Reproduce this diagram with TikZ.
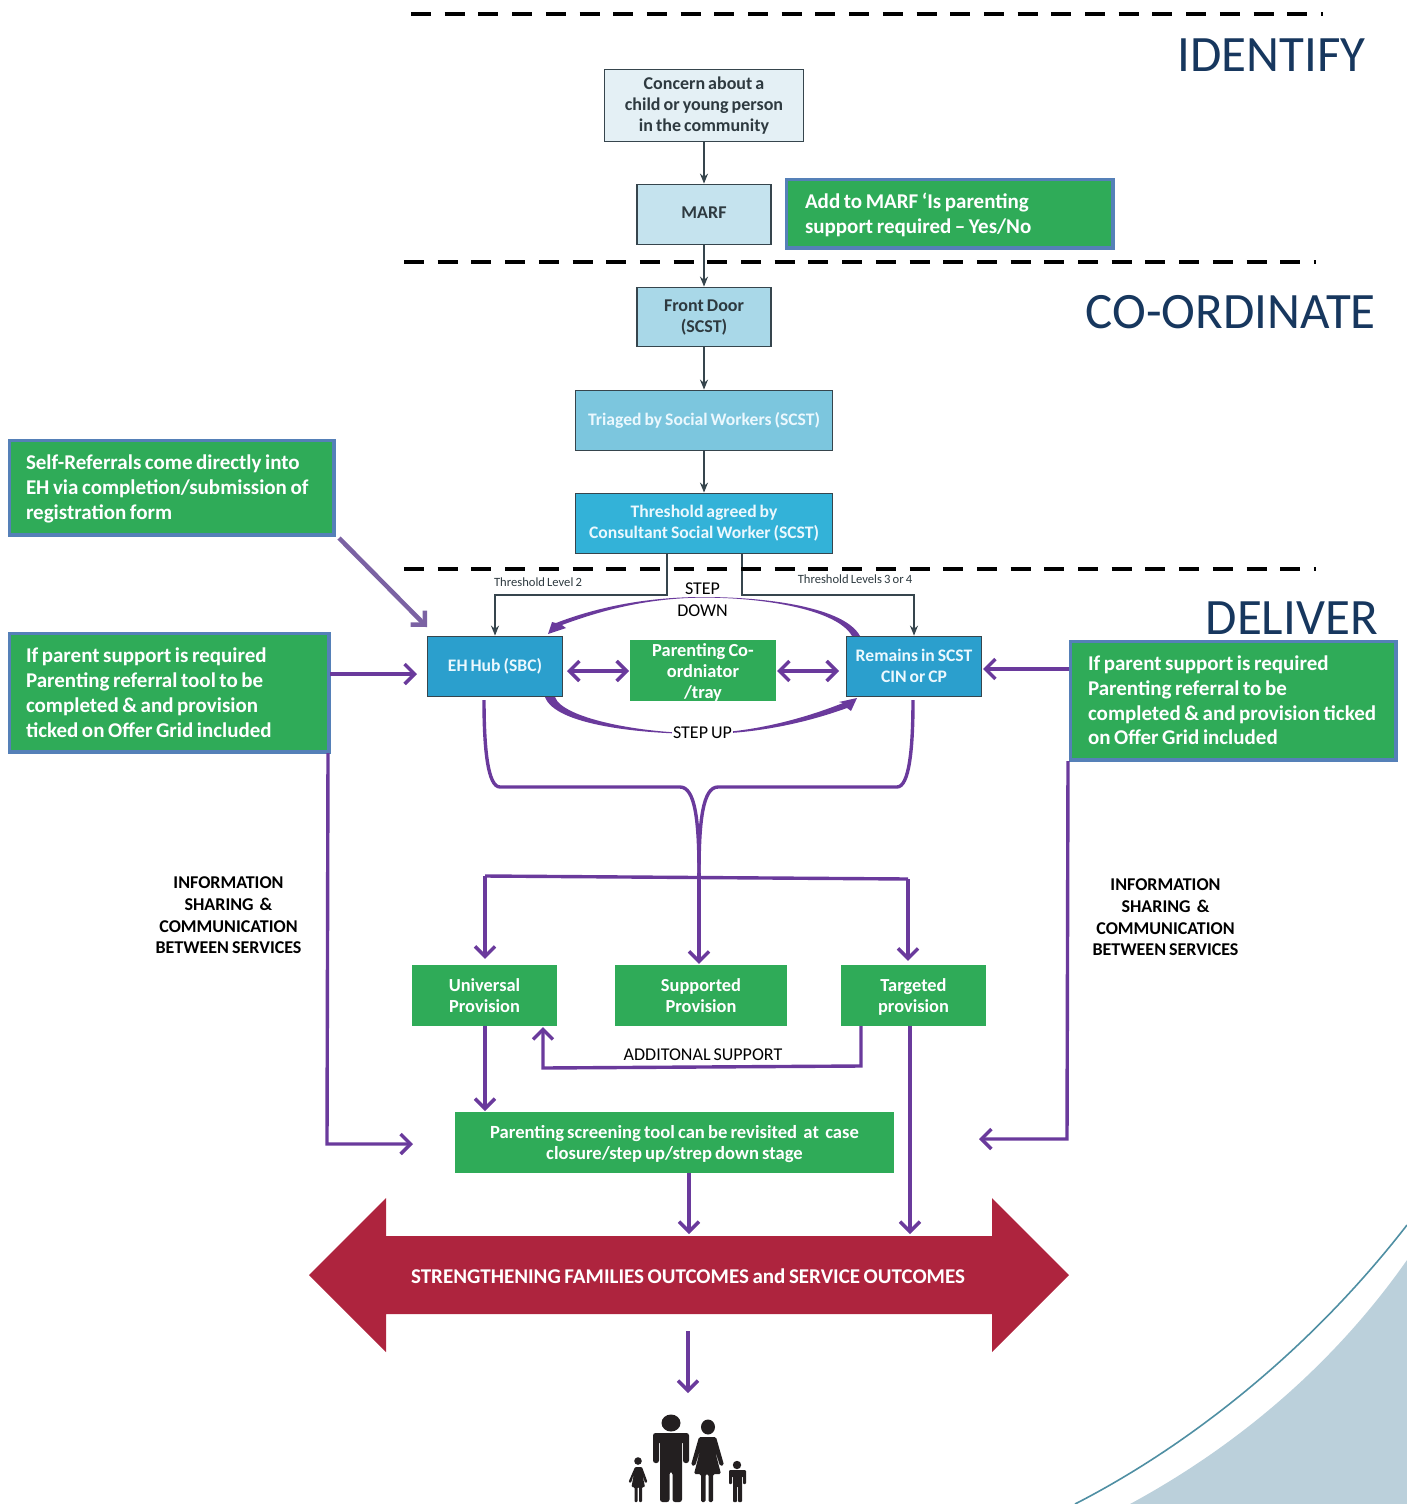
\documentclass[tikz,border=0pt]{standalone}
\usepackage{fontspec}
\setmainfont{Carlito}[WordSpace=0.75]
\usetikzlibrary{arrows.meta,calc}
\definecolor{grn}{HTML}{2FAB58}
\definecolor{bordblue}{HTML}{5580B8}
\definecolor{purp}{HTML}{6A3A9C}
\definecolor{lpurp}{HTML}{7B62A3}
\definecolor{crim}{HTML}{AE243E}
\definecolor{navy}{HTML}{17375E}
\definecolor{edge}{HTML}{36454D}
\definecolor{ink}{HTML}{2E3A40}
\definecolor{swoosh}{HTML}{BBD0DB}
\definecolor{swline}{HTML}{4F8FA3}
\definecolor{fam}{HTML}{231F20}
\newcommand{\fs}[2]{\fontsize{#1}{#2}\selectfont}
\newcommand{\tp}[1]{\rule{0pt}{#1pt}}
\tikzset{
  flowbox/.style={draw=edge,line width=1.6pt,inner sep=0pt,align=center,text=ink,font=\fs{18}{20.6}\bfseries},
  bluebox/.style={flowbox,text=white!92!cyan,font=\fs{17.6}{21}\bfseries},
  notebox/.style={draw=bordblue,line width=3.5pt,fill=grn,text=white,align=flush left,inner ysep=0pt,font=\fs{21}{24.8}\bfseries},
  provbox/.style={fill=grn,text=white,align=center,inner sep=0pt,font=\fs{18.4}{21}\bfseries},
  flowarrow/.style={draw=edge,line width=1.5pt,-{Stealth[length=10pt,width=8pt]}},
  parrow/.style={draw=purp,line width=3.4pt,-{Straight Barb[length=10pt,width=20pt]}},
  pline/.style={draw=purp,line width=3.4pt},
  pdouble/.style={draw=purp,line width=3.4pt,{Straight Barb[length=10pt,width=20pt]}-{Straight Barb[length=10pt,width=20pt]}},
  stagedash/.style={draw=black,line width=4pt,dash pattern=on 20pt off 13.7pt},
  stagetitle/.style={text=navy,anchor=east,inner sep=0pt,font=\fs{51}{51}},
  infotext/.style={align=center,inner sep=0pt,text=black,font=\fs{18}{21.7}\bfseries},
  plain/.style={inner sep=0pt,text=black,align=center,font=\fs{18}{22}},
  smalllabel/.style={inner sep=0pt,text=ink,font=\fs{12.6}{15}},
}
\begin{document}
\begin{tikzpicture}[x=1pt,y=-1pt]
\useasboundingbox (0,0) rectangle (1407,1504);
% corner swoosh
\fill[swoosh] (1130,1504) .. controls (1230,1450) and (1330,1370) .. (1407,1260) -- (1407,1504) -- cycle;
\draw[swline,line width=1.6pt] (1075,1504) .. controls (1190,1445) and (1310,1350) .. (1407,1225);

% titles
\node[stagetitle] (tid) at (1366,55) {IDENTIFY};
\node[stagetitle] (tco) at (1376,312) {CO-ORDINATE};
\node[stagetitle] (tde) at (1378,618) {DELIVER};

% flow boxes
\node[flowbox,fill={rgb,255:red,228;green,240;blue,245},minimum width=199.2pt,minimum height=72.2pt] (concern) at (704,105.5) {Concern about a\\child or young person\\in the community};
\node[flowbox,fill={rgb,255:red,197;green,227;blue,238},minimum width=134.2pt,minimum height=60.2pt] (marf) at (704,214.5) {\raisebox{3pt}{MARF}};
\node[flowbox,fill={rgb,255:red,169;green,216;blue,232},minimum width=134.2pt,minimum height=59.2pt] (front) at (704,317) {\tp{13}Front Door\\(SCST)};
\node[bluebox,fill={rgb,255:red,124;green,198;blue,222},minimum width=257.2pt,minimum height=60.2pt] (triaged) at (704,420.5) {Triaged by Social Workers (SCST)};
\node[bluebox,fill={rgb,255:red,51;green,178;blue,216},minimum width=257.2pt,minimum height=60.2pt] (thresh) at (704,523.5) {Threshold agreed by\\Consultant Social Worker (SCST)};
\node[bluebox,fill={rgb,255:red,43;green,159;blue,205},minimum width=135.2pt,minimum height=60.2pt] (eh) at (495,666.5) {EH Hub (SBC)};
\node[bluebox,fill={rgb,255:red,43;green,159;blue,205},minimum width=135.2pt,minimum height=60.2pt] (remains) at (914,666.5) {\raisebox{1pt}{Remains in SCST}\\\raisebox{1pt}{CIN or CP}};

% note boxes
\node[notebox,inner xsep=18.75pt,text width=289pt,minimum height=68.5pt] (add) at (949.5,213.5) {\tp{19}Add to MARF ‘Is parenting\\support required -- Yes/No};
\node[notebox,inner xsep=16.75pt,text width=291pt,minimum height=94.5pt] (self) at (171.5,487.5) {\tp{17}Self-Referrals come directly into\\EH via completion/submission of\\registration form};
\node[notebox,inner xsep=16.75pt,text width=286pt,minimum height=118.5pt] (ifl) at (169,692.5) {\tp{15}If parent support is required\\Parenting referral tool to be\\completed \& and provision\\ticked on Offer Grid included};
\node[notebox,inner xsep=17.75pt,text width=290pt,minimum height=118.5pt] (ifr) at (1233,700.5) {\tp{13}If parent support is required\\Parenting referral to be\\completed \& and provision ticked\\on Offer Grid included};

% green boxes
\node[provbox,minimum width=146pt,minimum height=61pt] (coord) at (703,670.5) {\tp{16}Parenting Co-\\ordniator\\/tray};
\node[provbox,minimum width=145pt,minimum height=61pt] (uni) at (484.5,995.5) {Universal\\Provision};
\node[provbox,minimum width=172pt,minimum height=61pt] (sup) at (701,995.5) {Supported\\Provision};
\node[provbox,minimum width=145pt,minimum height=61pt] (tar) at (913.5,995.5) {\tp{15}Targeted\\provision};
\node[provbox,minimum width=439pt,minimum height=61pt,font=\fs{18.6}{21}\bfseries] (screen) at (674.5,1142.5) {\tp{17}Parenting screening tool can be revisited\ \ at\ \ case\\closure/step up/strep down stage};

% big double arrow
\fill[crim] (309,1275) -- (386,1198) -- (386,1236) -- (992,1236) -- (992,1198) -- (1069,1275) -- (992,1352) -- (992,1314) -- (386,1314) -- (386,1352) -- cycle;
\node[inner sep=0pt,text=white,font=\fs{21}{24}\bfseries] (out) at (688,1276) {STRENGTHENING FAMILIES OUTCOMES and SERVICE OUTCOMES};

% free ends
\coordinate (tleft) at (667,554);
\coordinate (tleftb) at (667,595);
\coordinate (tright) at (742,554);
\coordinate (trightb) at (742,595);
\coordinate (ehd) at (484,700);
\coordinate (remd) at (913,700);
\coordinate (join) at (699,873);
\coordinate (hl) at (485,876);
\coordinate (hr) at (908,879);
\coordinate (lv) at (328,753);
\coordinate (lb) at (327,1144);
\coordinate (le) at (413,1144);
\coordinate (rv) at (1068,761);
\coordinate (rb) at (1067,1139);
\coordinate (re) at (979,1139);
\coordinate (outl) at (689,1234);
\coordinate (outr) at (910,1234);
\coordinate (famtop) at (688,1393);
\coordinate (outb) at (688,1331);
\coordinate (tarb) at (861,1026);
\coordinate (tarc) at (861,1066);
\coordinate (unic) at (543,1068);
\coordinate (unib) at (543,1027);
\coordinate (uniscr) at (485,1111);
\coordinate (unid) at (485,1026);
\coordinate (tard) at (910,1026);
\coordinate (scrd) at (689,1173);
\coordinate (selfa) at (339,538);
\coordinate (selfb) at (427,627);
\coordinate (ehin) at (417,674);
\coordinate (remin) at (983,669);
\coordinate (ifla) at (330,674);
\coordinate (ifra) at (1069,669);
\coordinate (dla) at (567,671);
\coordinate (dlb) at (629,671);
\coordinate (dra) at (777,671);
\coordinate (drb) at (839,671);

% black connectors
\draw[flowarrow] (concern) -- (marf);
\draw[flowarrow] (marf) -- (front);
\draw[flowarrow] (front) -- (triaged);
\draw[flowarrow] (triaged) -- (thresh);
\draw[flowarrow] (tleft) -- (tleftb) -| (eh.north);
\draw[flowarrow] (tright) -- (trightb) -| (remains.north);
\node[smalllabel] (tl2) at (538,582) {Threshold Level 2};
\node[smalllabel] (tl3) at (855,579) {Threshold Levels 3 or 4};

% step arrows
\fill[purp] (548,634) -- (552,622) -- (556,623) .. controls (600,606) and (650,597) .. (703,597) .. controls (770,597) and (845,608) .. (860,636) -- (852,636) .. controls (838,611) and (770,597.6) .. (703,597.6) .. controls (650,598) and (605,609) .. (562,625) -- (566,628) -- cycle;
\fill[purp] (857,698) -- (851,711) -- (847,708) .. controls (800,725) and (750,734) .. (703,734) .. controls (640,734) and (555,725) .. (545,697) -- (555,697) .. controls (562,718) and (640,733.5) .. (703,733.2) .. controls (750,732.5) and (800,720) .. (843,703) -- (839,702) -- cycle;
\node[plain] (stepd) at (702.5,600) {STEP\\DOWN};
\node[plain,fill=white,inner xsep=1pt,inner ysep=0pt] (stepu) at (702.5,733) {STEP UP};

% purple connectors
\draw[pdouble] (dla) -- (dlb);
\draw[pdouble] (dra) -- (drb);
\draw[parrow] (ifla) -- (ehin);
\draw[parrow] (ifra) -- (remin);
\draw[parrow,draw=lpurp,line width=4.5pt] (selfa) -- (selfb);
\draw[pline,line join=round] (ehd) .. controls (484,750) and (488,787) .. (500,787) -- (680,787) .. controls (695,787) and (699,820) .. (join);
\draw[pline,line join=round] (remd) .. controls (913,750) and (909,787) .. (897,787) -- (718,787) .. controls (703,787) and (699,820) .. (join);
\draw[pline] (hl) -- (hr);
\draw[parrow] (hl) -- ($(uni.north -| hl)+(0,-6)$);
\draw[parrow] (join) -- ($(sup.north -| join)+(0,-1)$);
\draw[parrow] (hr) -- ($(tar.north -| hr)+(0,-4)$);
\draw[parrow] (lv) -- (lb) -- (le);
\draw[parrow] (rv) -- (rb) -- (re);
\draw[parrow] (unid) -- (uniscr);
\draw[parrow] (tard) -- (outr);
\draw[parrow] (scrd) -- (outl);
\draw[parrow] (outb) -- (famtop);
\draw[parrow] (tarb) -- (tarc) -- (unic) -- (unib);
\node[plain] (addl) at (703,1055) {ADDITONAL SUPPORT};
\node[infotext] (infol) at (228.5,915.5) {INFORMATION\\SHARING\ \ \&\\COMMUNICATION\\BETWEEN SERVICES};
\node[infotext] (infor) at (1165.5,917.5) {INFORMATION\\SHARING\ \ \&\\COMMUNICATION\\BETWEEN SERVICES};

% stage separators
\draw[stagedash] (411,14) -- (1323,14);
\draw[stagedash] (404,262) -- (1316,262);
\draw[stagedash] (404,569) -- (1316,569);

% family
\begin{scope}[fam,fill=fam]
 % man
 \fill (671,1423) ellipse (9.5pt and 8.5pt);
 \fill[rounded corners=2.5pt] (653,1433) -- (689,1433) -- (689,1463) -- (683,1463) -- (683,1441) -- (682,1441) -- (682,1502) -- (672.5,1502) -- (672.5,1472) -- (669.5,1472) -- (669.5,1502) -- (660,1502) -- (660,1441) -- (659,1441) -- (659,1463) -- (653,1463) -- cycle;
 % woman
 \fill (708,1427) ellipse (7pt and 7.5pt);
 \fill[rounded corners=1.5pt] (699,1437) -- (716,1437) -- (724,1465) -- (720,1466) -- (714,1447) -- (721,1474) -- (713,1474) -- (713,1502) -- (708.5,1502) -- (708.5,1474) -- (705.5,1474) -- (705.5,1502) -- (701,1502) -- (701,1474) -- (694,1474) -- (701,1447) -- (695,1466) -- (691,1465) -- cycle;
 % girl
 \fill (638,1461) circle (3.8pt);
 \fill[rounded corners=1pt] (635,1467) -- (642,1467) -- (647.5,1482) -- (645,1483) -- (642,1473) -- (645,1487) -- (642,1487) -- (642,1502) -- (639,1502) -- (639,1487) -- (637.5,1487) -- (637.5,1502) -- (634.5,1502) -- (634.5,1487) -- (631.5,1487) -- (634,1473) -- (631,1483) -- (628.5,1482) -- cycle;
 % boy
 \fill (737,1465) circle (4.2pt);
 \fill[rounded corners=1pt] (729,1470) -- (746,1470) -- (746,1484) -- (743,1484) -- (743,1476) -- (742,1476) -- (742,1502) -- (738,1502) -- (738,1486) -- (737,1486) -- (737,1502) -- (733,1502) -- (733,1476) -- (732,1476) -- (732,1484) -- (729,1484) -- cycle;
\end{scope}
\end{tikzpicture}
\end{document}
